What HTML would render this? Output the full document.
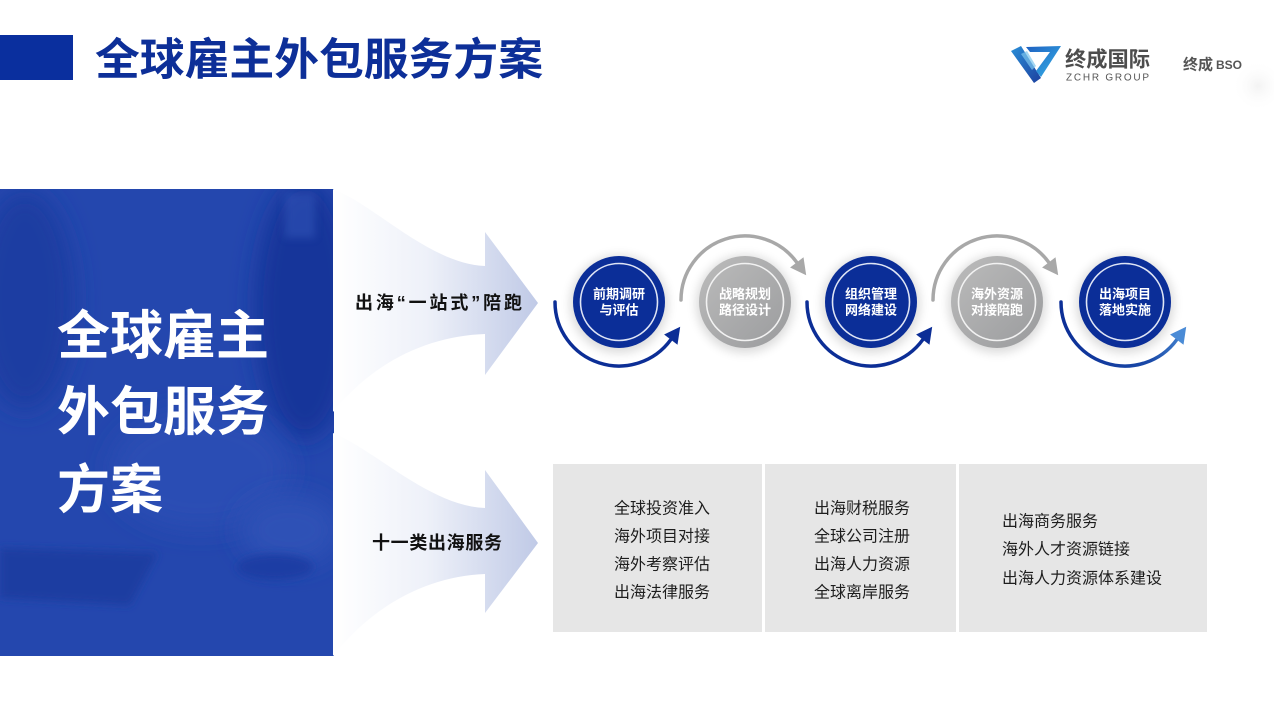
<!DOCTYPE html>
<html>
<head>
<meta charset="utf-8">
<style>
  html,body{margin:0;padding:0;background:#fff;}
  body{width:1274px;height:717px;overflow:hidden;position:relative;}
  svg{position:absolute;left:0;top:0;}
  text{font-family:"Liberation Sans","Noto Sans CJK SC",sans-serif;}
</style>
</head>
<body>
<svg width="1274" height="717" viewBox="0 0 1274 717" xmlns="http://www.w3.org/2000/svg">
  <defs>
    <linearGradient id="arrowGrad" x1="333" y1="0" x2="540" y2="0" gradientUnits="userSpaceOnUse">
      <stop offset="0" stop-color="#ffffff"/>
      <stop offset="0.45" stop-color="#eef1f9"/>
      <stop offset="1" stop-color="#bfc9e6"/>
    </linearGradient>
    <linearGradient id="greyCirc" x1="0" y1="0" x2="1" y2="1">
      <stop offset="0" stop-color="#bcbcbc"/>
      <stop offset="1" stop-color="#9a9b9d"/>
    </linearGradient>
    <linearGradient id="arc5" x1="1060" y1="0" x2="1190" y2="0" gradientUnits="userSpaceOnUse">
      <stop offset="0" stop-color="#0c2e96"/>
      <stop offset="0.7" stop-color="#1a4aa8"/>
      <stop offset="1" stop-color="#4d8fd8"/>
    </linearGradient>
    <linearGradient id="logoA" x1="0" y1="0" x2="1" y2="1">
      <stop offset="0" stop-color="#2a8fd8"/>
      <stop offset="1" stop-color="#1c3f9e"/>
    </linearGradient>
    <linearGradient id="logoB" x1="0" y1="0" x2="1" y2="1">
      <stop offset="0" stop-color="#1e5fc0"/>
      <stop offset="1" stop-color="#36b2e8"/>
    </linearGradient>
    <filter id="blur12" x="-50%" y="-50%" width="200%" height="200%"><feGaussianBlur stdDeviation="12"/></filter>
    <filter id="blur4" x="-50%" y="-50%" width="200%" height="200%"><feGaussianBlur stdDeviation="4"/></filter>
    <filter id="shadow" x="-50%" y="-50%" width="200%" height="200%"><feGaussianBlur stdDeviation="5"/></filter>
    <radialGradient id="cornerGlow" cx="0.5" cy="0.5" r="0.5">
      <stop offset="0" stop-color="#f3f3f3"/>
      <stop offset="1" stop-color="#ffffff" stop-opacity="0"/>
    </radialGradient>
    <clipPath id="panelClip"><rect x="0" y="189" width="334" height="467"/></clipPath>
  </defs>

  <!-- corner faint glow -->
  <circle cx="1258" cy="86" r="26" fill="url(#cornerGlow)"/>

  <!-- Header -->
  <rect x="0" y="35" width="73" height="45" fill="#0a2f9e"/>
  <text x="95" y="60" font-size="44" font-weight="bold" fill="#0d2f98" dominant-baseline="central" textLength="448" lengthAdjust="spacingAndGlyphs">全球雇主外包服务方案</text>

  <!-- Logo -->
  <polygon points="1011,51 1021,46 1041,78 1034,83" fill="url(#logoA)"/>
  <polygon points="1026,47 1061,46 1041,77 1036,71 1050,52 1030,52" fill="url(#logoB)"/>
  <polygon points="1021,54 1027,51 1036,66 1032,70" fill="#7cc6ee" opacity="0.7"/>
  <text x="1065" y="60" font-size="21" font-weight="bold" fill="#4d4d4d" dominant-baseline="central" textLength="85" lengthAdjust="spacingAndGlyphs">终成国际</text>
  <text x="1066" y="78" font-size="10" fill="#555" dominant-baseline="central" textLength="83" lengthAdjust="spacing">ZCHR GROUP</text>
  <text x="1183" y="65" font-size="15" font-weight="bold" fill="#555" dominant-baseline="central">终成</text>
  <text x="1216" y="65" font-size="12" font-weight="bold" fill="#555" dominant-baseline="central">BSO</text>

  <!-- Left panel (photo-ish) -->
  <g clip-path="url(#panelClip)">
    <rect x="0" y="189" width="334" height="467" fill="#2447ae"/>
    <ellipse cx="305" cy="310" rx="50" ry="130" fill="#16349a" filter="url(#blur12)"/>
    <ellipse cx="25" cy="300" rx="50" ry="110" fill="#1d3da2" filter="url(#blur12)"/>
    <ellipse cx="200" cy="470" rx="90" ry="60" fill="#2a4db4" filter="url(#blur12)"/>
    <ellipse cx="290" cy="530" rx="50" ry="35" fill="#2d51b6" filter="url(#blur12)"/>
    <polygon points="0,548 158,553 130,605 0,598" fill="#1c3ca1" filter="url(#blur4)"/>
    <ellipse cx="275" cy="567" rx="38" ry="13" fill="#1d3ea4" filter="url(#blur4)"/>
    <rect x="285" y="193" width="30" height="45" fill="#3558bc" opacity="0.5" filter="url(#blur4)"/>
  </g>
  <text font-size="53" font-weight="bold" fill="#ffffff" dominant-baseline="central">
    <tspan x="57" y="336">全球雇主</tspan>
    <tspan x="57" y="412">外包服务</tspan>
    <tspan x="57" y="490">方案</tspan>
  </text>

  <!-- Big arrows -->
  <path d="M333,189 C375,205 430,264 485,266 L485,232 L538,303 L485,375 L485,334 C430,336 375,360 333,412 Z" fill="url(#arrowGrad)"/>
  <path d="M333,433 C375,450 430,506 485,508 L485,470 L538,543 L485,613 L485,574 C430,576 375,603 333,656 Z" fill="url(#arrowGrad)"/>
  <text x="355" y="303" font-size="18" font-weight="bold" fill="#111" dominant-baseline="central" textLength="167" lengthAdjust="spacing">出海“一站式”陪跑</text>
  <text x="372" y="543" font-size="18" font-weight="bold" fill="#111" dominant-baseline="central" textLength="130" lengthAdjust="spacing">十一类出海服务</text>

  <!-- Circle shadows -->
  <g fill="#000" opacity="0.14" filter="url(#shadow)">
    <circle cx="619" cy="304" r="49"/>
    <circle cx="745" cy="304" r="49"/>
    <circle cx="871" cy="304" r="49"/>
    <circle cx="997" cy="304" r="49"/>
    <circle cx="1125" cy="304" r="49"/>
  </g>

  <!-- Arcs -->
  <g fill="none" stroke-width="3.5" stroke-linecap="round">
    <path d="M555,302 A64,64 0 0 0 670.8,339.6" stroke="#0c2e96"/>
    <path d="M681,300 A64,64 0 0 1 796.8,262.4" stroke="#a8a8a8"/>
    <path d="M807,302 A64,64 0 0 0 922.8,339.6" stroke="#0c2e96"/>
    <path d="M933,300 A64,64 0 0 1 1048.8,262.4" stroke="#a8a8a8"/>
    <path d="M1061,302 A64,64 0 0 0 1176.8,339.6" stroke="url(#arc5)"/>
  </g>
  <!-- arrowheads -->
  <polygon points="680.2,326.7 677.5,344.7 664.1,334.5" fill="#0c2e96"/>
  <polygon points="806.2,275.3 803.5,257.3 790.1,267.5" fill="#a8a8a8"/>
  <polygon points="932.2,326.7 929.5,344.7 916.1,334.5" fill="#0c2e96"/>
  <polygon points="1058.2,275.3 1055.5,257.3 1042.1,267.5" fill="#a8a8a8"/>
  <polygon points="1186.2,326.7 1183.5,344.7 1170.1,334.5" fill="#4a8bd6"/>

  <!-- Circles -->
  <circle cx="619" cy="302" r="46" fill="#0b2e98"/>
  <circle cx="619" cy="302" r="38.5" fill="none" stroke="#dfe5f5" stroke-width="1.6"/>
  <circle cx="745" cy="302" r="46" fill="url(#greyCirc)"/>
  <circle cx="745" cy="302" r="38.5" fill="none" stroke="#f2f2f2" stroke-width="1.6"/>
  <circle cx="871" cy="302" r="46" fill="#0b2e98"/>
  <circle cx="871" cy="302" r="38.5" fill="none" stroke="#dfe5f5" stroke-width="1.6"/>
  <circle cx="997" cy="302" r="46" fill="url(#greyCirc)"/>
  <circle cx="997" cy="302" r="38.5" fill="none" stroke="#f2f2f2" stroke-width="1.6"/>
  <circle cx="1125" cy="302" r="46" fill="#0b2e98"/>
  <circle cx="1125" cy="302" r="38.5" fill="none" stroke="#dfe5f5" stroke-width="1.6"/>

  <g font-size="13" font-weight="bold" fill="#ffffff" text-anchor="middle" dominant-baseline="central">
    <text x="619" y="294">前期调研</text>
    <text x="619" y="310">与评估</text>
    <text x="745" y="294">战略规划</text>
    <text x="745" y="310">路径设计</text>
    <text x="871" y="294">组织管理</text>
    <text x="871" y="310">网络建设</text>
    <text x="997" y="294">海外资源</text>
    <text x="997" y="310">对接陪跑</text>
    <text x="1125" y="294">出海项目</text>
    <text x="1125" y="310">落地实施</text>
  </g>

  <!-- Service boxes -->
  <rect x="553" y="464" width="209" height="168" fill="#e6e6e6"/>
  <rect x="765" y="464" width="191" height="168" fill="#e6e6e6"/>
  <rect x="959" y="464" width="248" height="168" fill="#e6e6e6"/>

  <g font-size="16" fill="#1e1e1e" dominant-baseline="central">
    <text x="614" y="509">全球投资准入</text>
    <text x="614" y="537">海外项目对接</text>
    <text x="614" y="565">海外考察评估</text>
    <text x="614" y="593">出海法律服务</text>
    <text x="814" y="509">出海财税服务</text>
    <text x="814" y="537">全球公司注册</text>
    <text x="814" y="565">出海人力资源</text>
    <text x="814" y="593">全球离岸服务</text>
    <text x="1002" y="522">出海商务服务</text>
    <text x="1002" y="550">海外人才资源链接</text>
    <text x="1002" y="579">出海人力资源体系建设</text>
  </g>
</svg>
</body>
</html>
